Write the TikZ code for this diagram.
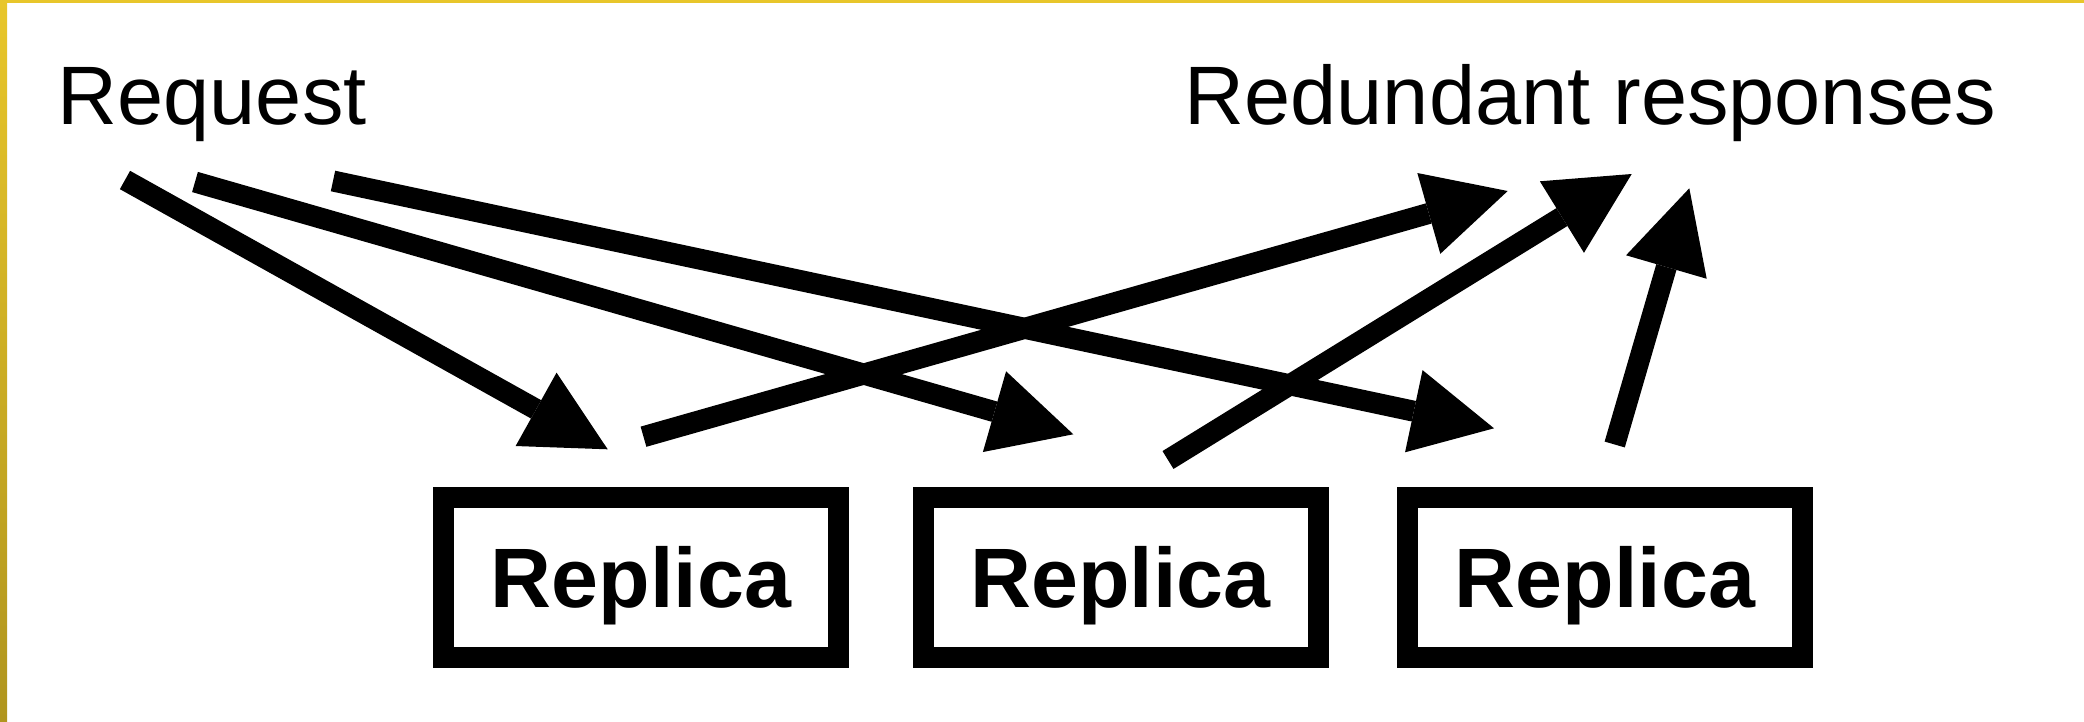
\documentclass[tikz,border=0pt]{standalone}
\usepackage{fontspec}
\setmainfont{Liberation Sans}
\usetikzlibrary{arrows.meta}

\definecolor{frameyellow}{HTML}{E8C62A}
\definecolor{framegold}{HTML}{B0951E}

\tikzset{
  replica/.style={draw, line width=2.1mm, minimum width=3.95cm, minimum height=1.6cm,
    inner sep=0pt, outer sep=0pt, text height=6mm, text depth=0pt,
    font=\fontsize{24}{28}\selectfont\bfseries},
  heading/.style={anchor=base west, inner sep=0pt, font=\fontsize{23.6}{28}\selectfont},
  msg/.style={line width=2.1mm, -{Triangle[length=8.2mm, width=8.4mm, line width=0pt]}}
}

\begin{document}
\begin{tikzpicture}
    \useasboundingbox (0,0) rectangle (20.84,7.21);

    % Frame edges (top and left)
    \fill[frameyellow] (0,7.18) rectangle (20.84,7.21);
    \shade[top color=frameyellow, bottom color=framegold] (0,0) rectangle (0.07,7.21);

    % Labels
    \node[heading] (req) at (0.57,5.97) {Request};
    \node[heading] (resp) at (11.84,5.97) {Redundant responses};

    % Replicas
    \node[replica] (rep1) at (6.41,1.432) {Replica};
    \node[replica] (rep2) at (11.205,1.432) {Replica};
    \node[replica] (rep3) at (16.05,1.432) {Replica};

    % Request fan-out
    \coordinate (out1) at (1.25,5.41);
    \coordinate (out2) at (1.95,5.39);
    \coordinate (out3) at (3.33,5.40);
    \coordinate (in1) at (6.077,2.717);
    \coordinate (in2) at (10.733,2.867);
    \coordinate (in3) at (14.94,2.927);
    \draw[msg] (out1) -- (in1);
    \draw[msg] (out2) -- (in2);
    \draw[msg] (out3) -- (in3);

    % Responses going back
    \coordinate (ans1) at (6.435,2.843);
    \coordinate (ans2) at (11.68,2.61);
    \coordinate (ans3) at (16.147,2.765);
    \coordinate (back1) at (15.077,5.30);
    \coordinate (back2) at (16.317,5.47);
    \coordinate (back3) at (16.893,5.327);
    \draw[msg] (ans1) -- (back1);
    \draw[msg] (ans2) -- (back2);
    \draw[msg] (ans3) -- (back3);
\end{tikzpicture}
\end{document}
